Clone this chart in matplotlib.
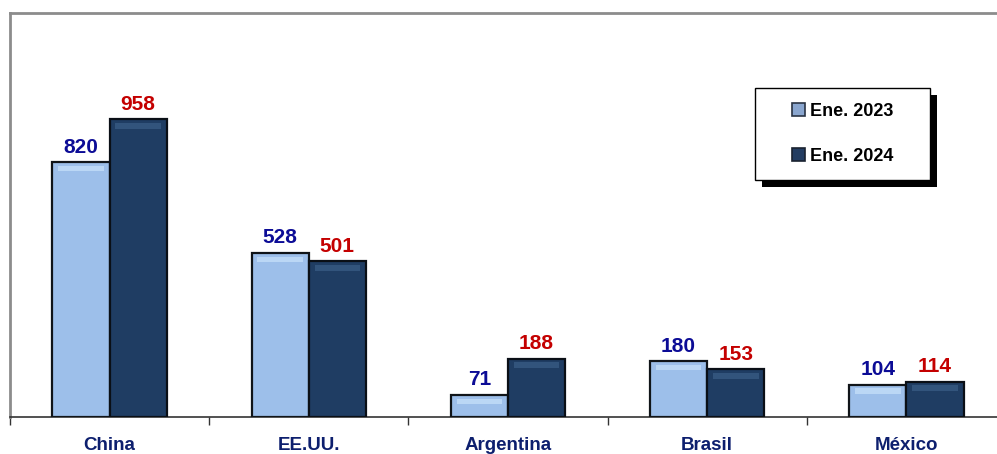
import matplotlib
matplotlib.use("Agg")
import matplotlib.pyplot as plt
from matplotlib.patches import Rectangle
import numpy as np

plt.rcParams['font.family'] = ['Liberation Sans Narrow', 'Liberation Sans', 'DejaVu Sans']

# data
countries = ["China", "EE.UU.", "Argentina", "Brasil", "México"]
ene_2023 = [820, 528, 71, 180, 104]
ene_2024 = [958, 501, 188, 153, 114]
series_names = ["Ene. 2023", "Ene. 2024"]

light_col = "#9dbfea"
dark_col = "#1f3d63"
blue_txt = "#0c0c96"
red_txt = "#c40000"
navy_txt = "#0d1f6e"

fig = plt.figure(figsize=(9.97, 4.54), dpi=100)
ax = fig.add_axes([10 / 997, 37 / 454, 996 / 997, 404 / 454])

x = np.arange(len(countries))
w = 0.287

b1 = ax.bar(x - w / 2, ene_2023, w, color=light_col, edgecolor="#101418", linewidth=1.6,
            label=series_names[0], zorder=3)
b2 = ax.bar(x + w / 2, ene_2024, w, color=dark_col, edgecolor="#0a0f16", linewidth=1.6,
            label=series_names[1], zorder=3)

# bevel highlight near the top of each bar
for bars, hl in [(b1, "#c9e2fb"), (b2, "#3b5e88")]:
    for r in bars:
        h = r.get_height()
        ax.bar(r.get_x() + r.get_width() / 2, 18, r.get_width() * 0.8, bottom=h - 30,
               color=hl, linewidth=0, zorder=4, alpha=0.7)

for i in range(len(countries)):
    ax.annotate(str(ene_2023[i]), xy=(x[i] - w / 2, ene_2023[i]), xytext=(0, 4),
                textcoords="offset points", ha="center", va="bottom",
                fontsize=15, fontweight="bold", color=blue_txt,
                family=['Liberation Sans', 'DejaVu Sans'])
    ax.annotate(str(ene_2024[i]), xy=(x[i] + w / 2, ene_2024[i]), xytext=(0, 4),
                textcoords="offset points", ha="center", va="bottom",
                fontsize=15, fontweight="bold", color=red_txt,
                family=['Liberation Sans', 'DejaVu Sans'])

ax.set_xlim(-0.5, len(countries) - 0.5)
ax.set_ylim(0, 1300)

ax.set_xticks(x)
ax.set_xticklabels(countries, fontsize=13.5, fontweight="bold", color=navy_txt)
ax.tick_params(axis="x", which="major", length=0, pad=14.5)
ax.set_xticks(np.arange(-0.5, len(countries) + 0.5, 1), minor=True)
ax.tick_params(axis="x", which="minor", length=6, width=1, color="#333333")
ax.set_yticks([])

for s in ["left", "top", "right"]:
    ax.spines[s].set_color("#8c8c8c")
    ax.spines[s].set_linewidth(2)
ax.spines["bottom"].set_color("#333333")
ax.spines["bottom"].set_linewidth(1.2)

# legend box with a hard black drop shadow
bx0, bx1 = (755 - 10) / 996, (930 - 10) / 996
by0, by1 = (417 - 180) / 404, (417 - 88) / 404
sh_dx, sh_dy = 7 / 996, 7 / 404
ax.add_patch(Rectangle((bx0 + sh_dx, by0 - sh_dy), bx1 - bx0, by1 - by0, transform=ax.transAxes,
                       facecolor="black", edgecolor="none", zorder=8, clip_on=False))
ax.add_patch(Rectangle((bx0, by0), bx1 - bx0, by1 - by0, transform=ax.transAxes,
                       facecolor="white", edgecolor="black", linewidth=1, zorder=9, clip_on=False))

h1 = Rectangle((0, 0), 1, 1, facecolor="#8aa6cf", edgecolor="#2a3444", linewidth=1.2)
h2 = Rectangle((0, 0), 1, 1, facecolor="#233d62", edgecolor="#1a2230", linewidth=1.2)
leg = ax.legend([h1, h2], series_names, loc="center",
                bbox_to_anchor=((bx0 + bx1) / 2, (by0 + by1) / 2), frameon=False,
                prop={"weight": "bold", "size": 13},
                handlelength=0.75, handleheight=0.75, handletextpad=0.25,
                labelspacing=1.55, borderpad=0, borderaxespad=0)
leg.set_zorder(10)
for t in leg.get_texts():
    t.set_color("black")

fig.savefig("out.png", dpi=100)
